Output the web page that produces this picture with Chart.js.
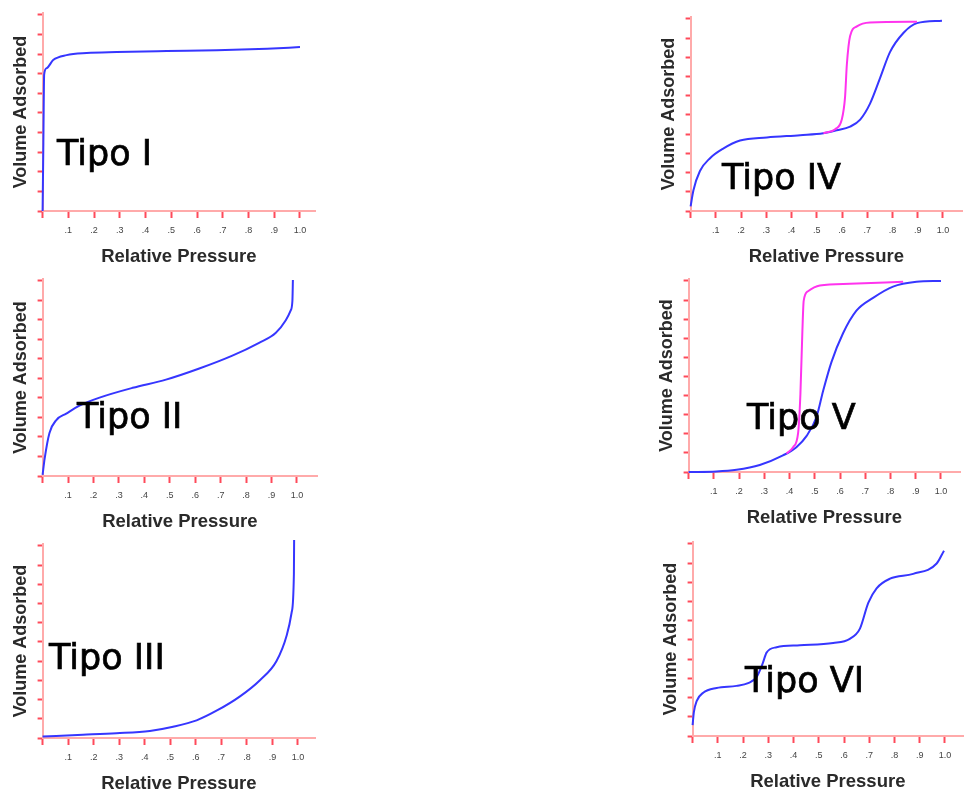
<!DOCTYPE html>
<html>
<head>
<meta charset="utf-8">
<script src="https://cdn.jsdelivr.net/npm/chart.js@4/dist/chart.umd.min.js"></script>
<style>
  body { margin: 0; background: #fff; }
  #page { position: relative; width: 973px; height: 793px; overflow: hidden; }
  canvas { position: absolute; }
  .tipo { position: absolute; font-family: "DejaVu Sans", Verdana, sans-serif; font-size: 35px; line-height: 35px;
          color: #000; white-space: nowrap; -webkit-text-stroke: 0.7px #000; }
</style>
</head>
<body>
<div id="page"></div>
<script>
// relative pressure ticks / labels, volume ticks (no labels)
const xTicks = [0, 0.1, 0.2, 0.3, 0.4, 0.5, 0.6, 0.7, 0.8, 0.9, 1.0];
const xTickLabels = ['', '.1', '.2', '.3', '.4', '.5', '.6', '.7', '.8', '.9', '1.0'];
const yTicks = [0, 1, 2, 3, 4, 5, 6, 7, 8, 9, 10];

// Tipo I
const tipo1X = [0, 0.003, 0.006, 0.016, 0.041, 0.093, 0.171, 0.288, 0.482, 0.677, 0.872, 1.0];
const tipo1Y = [0, 3.5, 6.96, 7.29, 7.7, 7.95, 8.06, 8.11, 8.16, 8.2, 8.28, 8.36];
// Tipo II
const tipo2X = [0, 0.008, 0.027, 0.054, 0.093, 0.145, 0.224, 0.354, 0.485, 0.616, 0.746, 0.851, 0.916, 0.956, 0.975, 0.982, 0.984];
const tipo2Y = [0.06, 0.89, 2.21, 2.87, 3.2, 3.61, 4.02, 4.52, 4.94, 5.51, 6.17, 6.83, 7.33, 7.99, 8.48, 8.97, 10.05];
// Tipo III
const tipo3X = [0, 0.158, 0.289, 0.42, 0.511, 0.603, 0.681, 0.773, 0.851, 0.916, 0.956, 0.975, 0.984, 0.985];
const tipo3Y = [0.08, 0.17, 0.25, 0.37, 0.59, 0.92, 1.42, 2.17, 3.01, 4.01, 5.35, 6.52, 8.53, 10.54];
// Tipo IV (adsorption / desorption)
const tipo4AdsX = [0, 0.011, 0.037, 0.077, 0.129, 0.196, 0.302, 0.434, 0.526, 0.579, 0.632, 0.672, 0.711, 0.751, 0.79, 0.844, 0.897, 0.996];
const tipo4AdsY = [0.24, 1.07, 2.08, 2.75, 3.25, 3.67, 3.83, 3.95, 4.05, 4.2, 4.39, 4.76, 5.59, 6.93, 8.27, 9.28, 9.78, 9.91];
const tipo4DesX = [0.526, 0.573, 0.599, 0.612, 0.619, 0.632, 0.659, 0.711, 0.897];
const tipo4DesY = [4.05, 4.26, 4.76, 5.93, 7.6, 9.11, 9.61, 9.81, 9.85];
// Tipo V
const tipo5AdsX = [0, 0.11, 0.19, 0.282, 0.374, 0.427, 0.467, 0.507, 0.533, 0.566, 0.612, 0.665, 0.731, 0.81, 0.903, 1.0];
const tipo5AdsY = [0, 0.03, 0.12, 0.37, 0.87, 1.3, 1.88, 2.89, 4.24, 5.75, 7.26, 8.44, 9.11, 9.7, 9.95, 10.0];
const tipo5DesX = [0.388, 0.414, 0.434, 0.443, 0.451, 0.456, 0.473, 0.52, 0.639, 0.85];
const tipo5DesY = [0.96, 1.3, 2.05, 4.07, 7.43, 8.95, 9.46, 9.76, 9.85, 9.95];
// Tipo VI
const tipo6X = [0, 0.005, 0.016, 0.042, 0.095, 0.174, 0.22, 0.254, 0.277, 0.293, 0.333, 0.425, 0.557, 0.623, 0.663, 0.696, 0.729, 0.782, 0.874, 0.967, 0.996];
const tipo6Y = [0.57, 1.24, 1.82, 2.25, 2.5, 2.61, 2.75, 3.08, 3.75, 4.34, 4.62, 4.72, 4.84, 5.06, 5.59, 6.93, 7.69, 8.19, 8.44, 8.98, 9.65];

const BLUE = '#3636ff';
const MAGENTA = '#ff33ee';

const pts = (xs, ys) => xs.map((x, i) => ({ x: x, y: ys[i] }));
const line = (data, color) => ({
  data: data, borderColor: color, borderWidth: 2, pointRadius: 0,
  cubicInterpolationMode: 'monotone', clip: false
});

// page layout of each panel: y axis x, x axis y, y of top tick, x of 1.0, end of x axis
const panels = [
  { name: 'Tipo I',   axisX: 42.7,  axisY: 218, topY: 15,    x1: 300,   xEnd: 315,   tx: 57,  ty: 136,
    sets: [line(pts(tipo1X, tipo1Y), BLUE)] },
  { name: 'Tipo II',  axisX: 43,    axisY: 483, topY: 281,   x1: 297,   xEnd: 317,   tx: 77,  ty: 399,
    sets: [line(pts(tipo2X, tipo2Y), BLUE)] },
  { name: 'Tipo III', axisX: 43,    axisY: 745, topY: 545.7, x1: 298,   xEnd: 315,   tx: 49,  ty: 640,
    sets: [line(pts(tipo3X, tipo3Y), BLUE)] },
  { name: 'Tipo IV',  axisX: 690.7, axisY: 218, topY: 19,    x1: 942.7, xEnd: 961.7, tx: 722, ty: 160,
    sets: [line(pts(tipo4DesX, tipo4DesY), MAGENTA), line(pts(tipo4AdsX, tipo4AdsY), BLUE)] },
  { name: 'Tipo V',   axisX: 689,   axisY: 479, topY: 280.7, x1: 941,   xEnd: 960,   tx: 747, ty: 400,
    sets: [line(pts(tipo5DesX, tipo5DesY), MAGENTA), line(pts(tipo5AdsX, tipo5AdsY), BLUE)] },
  { name: 'Tipo VI',  axisX: 692.7, axisY: 743, topY: 544,   x1: 945,   xEnd: 963,   tx: 745, ty: 663,
    sets: [line(pts(tipo6X, tipo6Y), BLUE)] }
];

const LEFT_IN = 38.6;    // canvas left edge -> y axis line
const BOTTOM_IN = 54;    // x axis line -> canvas bottom
const Y_MAX = 10.1;
const FONT = 'Liberation Sans, Arial, sans-serif';

const page = document.getElementById('page');

panels.forEach(p => {
  const areaH = (p.axisY - p.topY) * Y_MAX / 10;
  const left = Math.round(p.axisX - LEFT_IN);
  const top = Math.round(p.axisY - areaH - 4);
  const cv = document.createElement('canvas');
  cv.width = Math.round(p.xEnd - left + 4);
  cv.height = Math.round(p.axisY + BOTTOM_IN - top);
  cv.style.left = left + 'px';
  cv.style.top = top + 'px';
  page.appendChild(cv);

  new Chart(cv, {
    type: 'line',
    data: { datasets: p.sets },
    options: {
      responsive: false,
      animation: false,
      layout: { padding: { left: 6, top: 4, right: 4, bottom: 2 } },
      plugins: { legend: { display: false }, tooltip: { enabled: false } },
      scales: {
        x: {
          type: 'linear', min: 0, max: (p.xEnd - p.axisX) / (p.x1 - p.axisX),
          afterBuildTicks: axis => { axis.ticks = xTicks.map(v => ({ value: v })); },
          ticks: {
            autoSkip: false, maxRotation: 0, padding: 7, color: '#444',
            font: { family: FONT, size: 9 },
            callback: (v, i) => xTickLabels[i]
          },
          grid: { drawOnChartArea: false, tickLength: 7, tickWidth: 2, tickColor: '#ff4a5a' },
          border: { color: '#ffaaaa', width: 2 },
          title: {
            display: true, text: 'Relative Pressure', color: '#2a2a2a',
            font: { family: FONT, size: 18.5, weight: 'bold' },
            padding: { top: 3, bottom: 2 }
          }
        },
        y: {
          type: 'linear', min: 0, max: Y_MAX,
          afterBuildTicks: axis => { axis.ticks = yTicks.map(v => ({ value: v })); },
          ticks: { display: false },
          grid: { drawOnChartArea: false, tickLength: 5, tickWidth: 2, tickColor: '#ff4a5a' },
          border: { color: '#ffaaaa', width: 2 },
          title: {
            display: true, text: 'Volume Adsorbed', color: '#2a2a2a',
            font: { family: FONT, size: 18, weight: 'bold' },
            padding: { top: 0, bottom: 6 }
          }
        }
      }
    }
  });

  const t = document.createElement('div');
  t.className = 'tipo';
  t.textContent = p.name;
  t.style.left = p.tx + 'px';
  t.style.top = p.ty + 'px';
  page.appendChild(t);
});
</script>
</body>
</html>
